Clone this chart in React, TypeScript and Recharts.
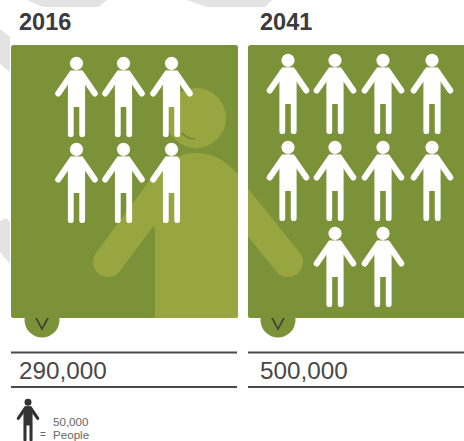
import React from "react";
import { ScatterChart, Scatter, XAxis, YAxis, ReferenceArea, Customized } from "recharts";

const years = ["2016", "2041"];
const populations = [290000, 500000];
const populationLabels = ["290,000", "500,000"];
const peoplePerIcon = 50000;
const legendLines = ["50,000", "People"];

const W = 464, H = 441;
const GREEN = "#7b9238", LIGHT = "#97a640", GRAY = "#e3e3e3";

// Layout of the two panels, in page pixels (the hidden axes run 1:1 with the page).
const panels = [
  { x1: 11, x2: 238, tab: 42, text: 19, cols: [76.5, 123.5, 171.5], rows: [57, 143], perRow: [3, 3], lastShare: 0.7 },
  { x1: 248, x2: 470, tab: 278, text: 260, cols: [288, 335, 383, 432], rows: [54, 141, 227], perRow: [4, 4, 2], lastShare: 1 },
];
const PANEL_TOP = 45, PANEL_BOTTOM = 318;

type Pt = { x: number; y: number; share: number; scale: number; color: string };

const buildPeople = (): Pt[] => {
  const out: Pt[] = [];
  populations.forEach((v, p) => {
    const count = Math.ceil(v / peoplePerIcon);
    const lay = panels[p];
    let n = 0;
    lay.perRow.forEach((len, r) => {
      for (let c = 0; c < len && n < count; c++, n++) {
        const col = len < lay.cols.length ? c + 1 : c;
        out.push({ x: lay.cols[col], y: lay.rows[r], share: n === count - 1 ? lay.lastShare : 1, scale: 1, color: "#ffffff" });
      }
    });
  });
  return out;
};
const people = buildPeople();
const legendIcon: Pt[] = [{ x: 28, y: 399, share: 1, scale: 0.53, color: "#333333" }];

const Person = (props: any) => {
  const { cx, cy, payload, index } = props;
  const { share, scale, color } = payload as Pt;
  const id = `person-clip-${Math.round(cx)}-${Math.round(cy)}-${index}`;
  return (
    <g transform={`translate(${cx},${cy}) scale(${scale})`}>
      {share < 1 && (
        <clipPath id={id}>
          <rect x={-21.5} y={-2} width={43 * share} height={86} />
        </clipPath>
      )}
      <g clipPath={share < 1 ? `url(#${id})` : undefined}>
        <circle cx={0} cy={6.3} r={6.6} fill={color} />
        <path
          d="M-5,14 Q0,12.6 5,14 L8.6,19 V77.2 a2.9,2.9 0 0 1 -5.8,0 V50 H-2.8 V77.2 a2.9,2.9 0 0 1 -5.8,0 V19 Z"
          fill={color}
        />
        <path d="M-4.5,16.5 L-18.3,36.5 M4.5,16.5 L18.3,36.5" stroke={color} strokeWidth={6} strokeLinecap="round" fill="none" />
      </g>
    </g>
  );
};

const Backdrop = () => (
  <g>
    <polygon points="27,0 43,7 98,7 107,0" fill={GRAY} />
    <polygon points="187,0 207,7 265,7 272,0" fill={GRAY} />
    <polygon points="0,29 10,37 10,72 0,64" fill={GRAY} />
    <polygon points="0,221 6,218 10,222 10,264 0,252" fill={GRAY} />
  </g>
);

// Panel background with the large pale figure clipped to it.
const PanelShape = (props: any) => {
  const { x, y, width, height } = props;
  const id = `panel-clip-${Math.round(x)}`;
  return (
    <g>
      <clipPath id={id}>
        <rect x={x} y={y} width={width} height={height} rx={2.5} />
      </clipPath>
      <rect x={x} y={y} width={width} height={height} rx={2.5} fill={GREEN} />
      <g clipPath={`url(#${id})`} fill={LIGHT}>
        <circle cx={196} cy={118} r={30} />
        <path d="M143,190 C158,166 176,153 197,153 C218,153 234,167 248,187 L239,318 H155 V230 Z" />
        <path d="M165,185 L108,262 M230,190 L288,262" stroke={LIGHT} strokeWidth={30} strokeLinecap="round" fill="none" />
        <path d="M182,133 Q187,139 195,139" stroke="#6d8434" strokeWidth={1.4} fill="none" />
      </g>
    </g>
  );
};

const Tabs = () => (
  <g>
    {panels.map((p) => (
      <circle key={p.tab} cx={p.tab} cy={320} r={17.5} fill={GREEN} />
    ))}
  </g>
);

const Chevrons = () => (
  <g>
    {panels.map((p) => (
      <polyline key={p.tab} points={`${p.tab - 7.5},315 ${p.tab},329 ${p.tab + 7.5},315`} fill="none" stroke="#3c4438" strokeWidth={1.6} />
    ))}
  </g>
);

const Labels = () => (
  <g fontFamily="'Liberation Sans', Arial, sans-serif">
    {panels.map((p, i) => (
      <g key={p.x1}>
        <text x={p.text} y={30} fontSize={23.5} fontWeight={700} fill="#3a3a3f">{years[i]}</text>
        <line x1={p.x1} x2={p.x2 - 1} y1={352.5} y2={352.5} stroke="#4a4a4a" strokeWidth={2} />
        <text x={p.text} y={379} fontSize={24.3} fill="#484848">{populationLabels[i]}</text>
        <line x1={p.x1} x2={p.x2 - 1} y1={387} y2={387} stroke="#4a4a4a" strokeWidth={2} />
      </g>
    ))}
    <text x={40} y={438} fontSize={10} fill="#666666">=</text>
    <text x={53} y={426} fontSize={11.6} fill="#666666">{legendLines[0]}</text>
    <text x={53} y={439} fontSize={11.6} fill="#666666">{legendLines[1]}</text>
  </g>
);

export default function App() {
  return (
    <div style={{ position: "absolute", left: 0, top: 0, width: W, height: H, background: "#ffffff", overflow: "hidden" }}>
      <ScatterChart width={W} height={H} margin={{ top: 0, right: 0, bottom: 0, left: 0 }}>
        <XAxis type="number" dataKey="x" domain={[0, W]} hide />
        <YAxis type="number" dataKey="y" domain={[0, H]} reversed hide />
        <Customized component={Backdrop} />
        <Customized component={Tabs} />
        {panels.map((p) => (
          <ReferenceArea key={p.x1} x1={p.x1} x2={p.x2} y1={PANEL_TOP} y2={PANEL_BOTTOM} shape={<PanelShape />} ifOverflow="visible" />
        ))}
        <Customized component={Chevrons} />
        <Customized component={Labels} />
        <Scatter data={people} shape={<Person />} isAnimationActive={false} />
        <Scatter data={legendIcon} shape={<Person />} isAnimationActive={false} />
      </ScatterChart>
    </div>
  );
}
